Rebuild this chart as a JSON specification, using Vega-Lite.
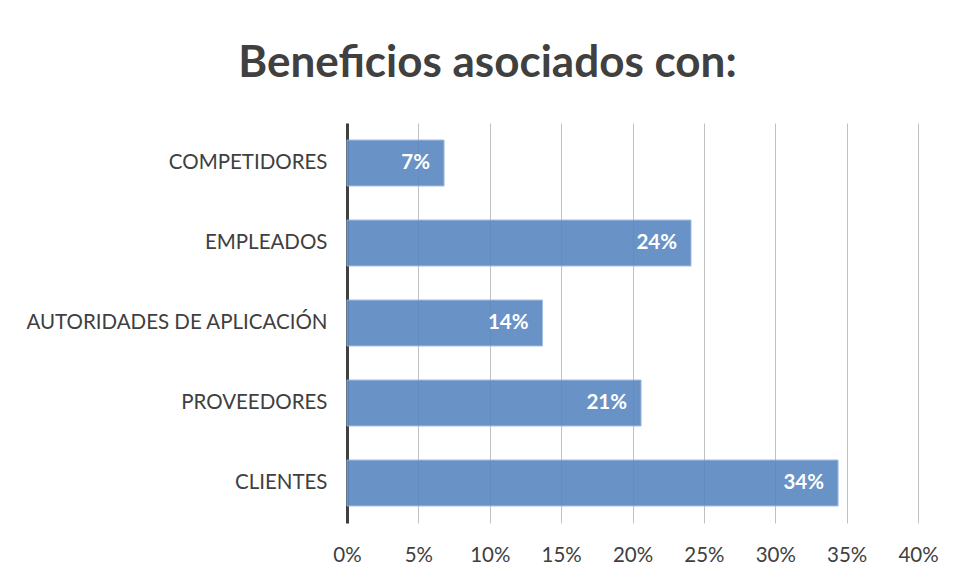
{
  "$schema": "https://vega.github.io/schema/vega-lite/v6.json",
  "width": 571,
  "height": 400,
  "autosize": {"type": "none"},
  "padding": {"left": 347, "top": 123, "right": 35, "bottom": 55},
  "background": "white",
  "config": {"view": {"stroke": null}, "font": "Lato"},
  "title": {
    "text": "Beneficios asociados con:",
    "font": "Lato",
    "fontSize": 44,
    "fontWeight": "bold",
    "color": "#404040",
    "anchor": "middle",
    "frame": "group",
    "dx": -145,
    "offset": 37
  },
  "data": {
    "values": [
      {"categoria": "COMPETIDORES", "valor": 0.068},
      {"categoria": "EMPLEADOS", "valor": 0.241},
      {"categoria": "AUTORIDADES DE APLICACIÓN", "valor": 0.137},
      {"categoria": "PROVEEDORES", "valor": 0.206},
      {"categoria": "CLIENTES", "valor": 0.344}
    ]
  },
  "encoding": {
    "y": {
      "field": "categoria",
      "type": "nominal",
      "sort": null,
      "scale": {"paddingInner": 0.425, "paddingOuter": 0.2125},
      "axis": {
        "title": null,
        "ticks": false,
        "grid": false,
        "domainColor": "#404040",
        "domainWidth": 3,
        "labelFont": "Lato",
        "labelFontSize": 20.5,
        "labelColor": "#404040",
        "labelPadding": 20,
        "labelLimit": 400
      }
    },
    "x": {
      "field": "valor",
      "type": "quantitative",
      "scale": {"domain": [0, 0.4], "nice": false},
      "axis": {
        "title": null,
        "format": ".0%",
        "values": [0, 0.05, 0.1, 0.15, 0.2, 0.25, 0.3, 0.35, 0.4],
        "domain": false,
        "ticks": false,
        "grid": true,
        "gridColor": "#c0c0c0",
        "gridWidth": 1,
        "labelFlush": false,
        "labelOverlap": false,
        "labelFont": "Lato",
        "labelFontSize": 20.5,
        "labelColor": "#404040",
        "labelPadding": 22
      }
    }
  },
  "layer": [
    {
      "mark": {"type": "bar", "color": "#5987c0", "opacity": 0.9, "stroke": "#9ab7dc", "strokeWidth": 1}
    },
    {
      "mark": {"type": "text", "align": "right", "dx": -14, "color": "white", "fontWeight": "bold", "fontSize": 20.5, "font": "Lato"},
      "encoding": {
        "text": {"field": "valor", "type": "quantitative", "format": ".0%"}
      }
    }
  ]
}
